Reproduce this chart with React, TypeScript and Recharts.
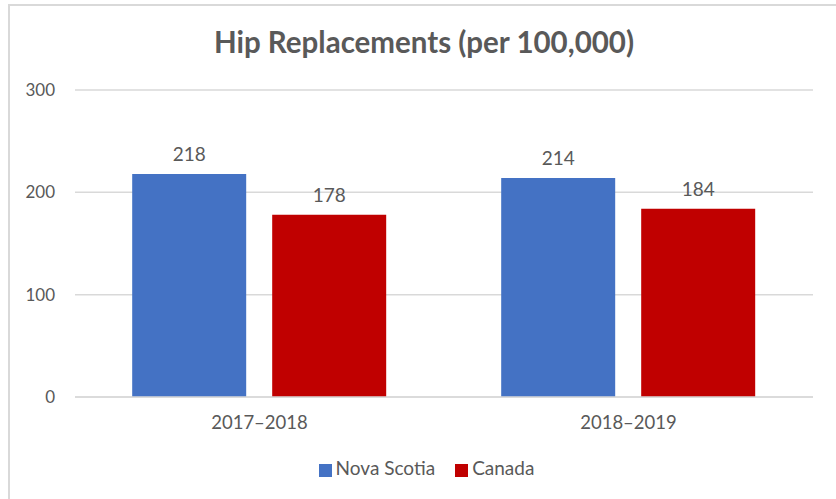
import { Bar, BarChart, CartesianGrid, LabelList, Legend, XAxis, YAxis } from 'recharts';

const categories = ['2017–2018', '2018–2019'];
const novaScotia = [218, 214];
const canada = [178, 184];
const yTicks = [0, 100, 200, 300];
const seriesNames = ['Nova Scotia', 'Canada'];

const data = categories.map((name, i) => ({ name, ns: novaScotia[i], ca: canada[i] }));

const FONT = 'Lato, "Open Sans", sans-serif';
const TEXT = '#595959';

export default function App() {
  return (
    <div style={{ position: 'fixed', left: 0, top: 0, width: 836, height: 499, background: '#fff', fontFamily: FONT }}>
      <div
        style={{
          position: 'absolute',
          left: 8,
          top: 4,
          width: 840,
          height: 510,
          border: '2px solid #d9d9d9',
          boxSizing: 'border-box',
        }}
      />
      <div
        style={{
          position: 'absolute',
          left: 0,
          top: 24,
          width: 848,
          textAlign: 'center',
          fontSize: 29.5,
          fontWeight: 700,
          color: TEXT,
        }}
      >
        Hip Replacements (per 100,000)
      </div>
      <div style={{ position: 'absolute', left: 0, top: 0 }}>
        <BarChart
          width={836}
          height={499}
          data={data}
          margin={{ top: 90, right: 23, left: 0, bottom: 20 }}
          barCategoryGap="15.5%"
          barGap={26}
        >
          <CartesianGrid vertical={false} stroke="#d9d9d9" strokeWidth={1.5} />
          <YAxis
            width={75}
            domain={[0, 300]}
            ticks={yTicks}
            axisLine={false}
            tickLine={false}
            tickMargin={14}
            tick={{ fill: TEXT, fontSize: 17, fontFamily: FONT }}
          />
          <XAxis
            dataKey="name"
            height={59}
            axisLine={{ stroke: '#d9d9d9', strokeWidth: 1.5 }}
            tickLine={false}
            tickMargin={13}
            tick={{ fill: TEXT, fontSize: 18.5, fontFamily: FONT }}
          />
          <Legend
            verticalAlign="bottom"
            iconType="square"
            iconSize={13}
            itemSorter={(item: any) => seriesNames.indexOf(item.value)}
            wrapperStyle={{ fontSize: 19, fontFamily: FONT, paddingLeft: 25 }}
            formatter={(value) => (
              <span style={{ color: TEXT, marginRight: value === seriesNames[0] ? 10 : 0 }}>{value}</span>
            )}
          />
          <Bar dataKey="ns" name={seriesNames[0]} fill="#4472C4" isAnimationActive={false}>
            <LabelList dataKey="ns" position="top" offset={13} fill={TEXT} fontSize={19} fontFamily={FONT} />
          </Bar>
          <Bar dataKey="ca" name={seriesNames[1]} fill="#C00000" isAnimationActive={false}>
            <LabelList dataKey="ca" position="top" offset={13} fill={TEXT} fontSize={19} fontFamily={FONT} />
          </Bar>
        </BarChart>
      </div>
    </div>
  );
}
